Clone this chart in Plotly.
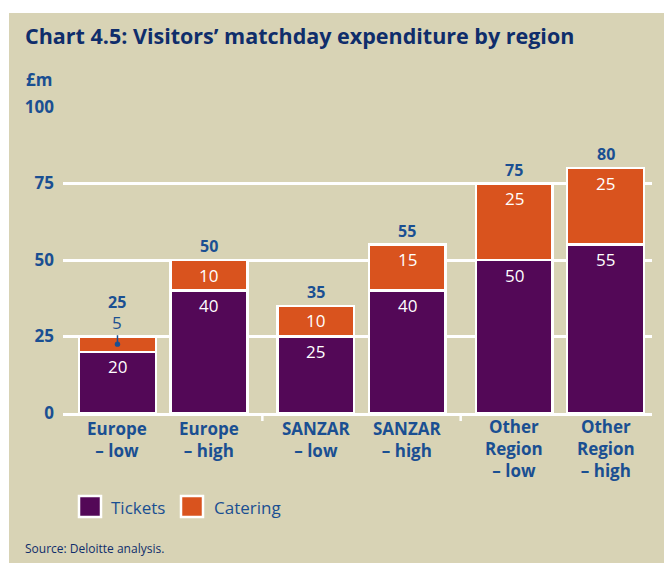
import plotly.graph_objects as go

# ---- data ----
categories = ["Europe<br>– low", "Europe<br>– high", "SANZAR<br>– low", "SANZAR<br>– high",
              "Other<br>Region<br>– low", "Other<br>Region<br>– high"]
groups = [0, 0, 1, 1, 2, 2]
tickets = [20, 40, 25, 40, 50, 55]
catering = [5, 10, 10, 15, 25, 25]
totals = [25, 50, 35, 55, 75, 80]
y_ticks = [0, 25, 50, 75, 100]

# ---- style ----
BG = "#D8D3B5"
PURPLE = "#530857"
ORANGE = "#D9531E"
BLUE = "#1A4F92"
NAVY = "#0F2D6B"
FONT = "Open Sans"

W, H = 664, 563
L, R, T, B = 63, 12, 107, 150
PW, PH = W - L - R, H - T - B

def px2x(px):
    return (px - L) / PW

def py2y(py):
    return (H - B - py) / PH

GAP = 0.17
xpos = [i + g * GAP for i, g in enumerate(groups)]

fig = go.Figure()
fig.add_trace(go.Bar(x=xpos, y=tickets, name="Tickets", width=0.84,
                     marker=dict(color=PURPLE, line=dict(color="white", width=2.5))))
fig.add_trace(go.Bar(x=xpos, y=catering, name="Catering", width=0.84,
                     marker=dict(color=ORANGE, line=dict(color="white", width=2.5))))

anns = []
for i, (x, t) in enumerate(zip(xpos, totals)):
    small = catering[i] < 8
    # inside labels (white), just below each segment's top
    anns.append(dict(x=x, y=tickets[i], xref="x", yref="y", text=str(tickets[i]),
                     showarrow=False, yanchor="middle", yshift=-15,
                     font=dict(color="white", size=17, family=FONT)))
    if not small:
        anns.append(dict(x=x, y=tickets[i] + catering[i], xref="x", yref="y",
                         text=str(catering[i]), showarrow=False, yanchor="middle", yshift=-15,
                         font=dict(color="white", size=17, family=FONT)))
    else:
        anns.append(dict(x=x, y=tickets[i] + catering[i] / 2, xref="x", yref="y",
                         text=str(catering[i]), showarrow=True, arrowhead=6, arrowsize=0.9,
                         arrowwidth=1.5, arrowcolor=BLUE, ax=0, ay=-22,
                         font=dict(color=BLUE, size=17, family=FONT)))
    anns.append(dict(x=x, y=t, xref="x", yref="y", text=f"<b>{t}</b>", showarrow=False,
                     yanchor="bottom", yshift=22 if small else 1,
                     font=dict(color=BLUE, size=16, family=FONT)))

# category labels under the axis
for x, c in zip(xpos, categories):
    n = len(c.split("<br>"))
    anns.append(dict(x=x, y=py2y(430 + 18.5 * (n - 1) / 2), xref="x", yref="paper",
                     text=f"<b>{c}</b>", showarrow=False, yanchor="middle",
                     font=dict(color=BLUE, size=17, family=FONT)))

# title, unit, source
anns.append(dict(x=px2x(23), y=py2y(36), xref="paper", yref="paper", xanchor="left",
                 yanchor="middle", showarrow=False,
                 text="<b>Chart 4.5: Visitors’ matchday expenditure by region</b>",
                 font=dict(color=NAVY, size=21.5, family=FONT)))
anns.append(dict(x=px2x(24), y=py2y(79), xref="paper", yref="paper", xanchor="left",
                 yanchor="middle", showarrow=False, text="<b>£m</b>",
                 font=dict(color=BLUE, size=17, family=FONT)))
anns.append(dict(x=px2x(23), y=py2y(548), xref="paper", yref="paper", xanchor="left",
                 yanchor="middle", showarrow=False, text="Source: Deloitte analysis.",
                 font=dict(color=NAVY, size=12, family=FONT)))

shapes = [
    # white page strips (top and left)
    dict(type="rect", xref="paper", yref="paper", x0=px2x(-5), x1=px2x(W + 5),
         y0=py2y(13), y1=py2y(-5), fillcolor="white", line=dict(width=0), layer="below"),
    dict(type="rect", xref="paper", yref="paper", x0=px2x(-5), x1=px2x(9),
         y0=py2y(H + 5), y1=py2y(-5), fillcolor="white", line=dict(width=0), layer="below"),
]
# group separator ticks
for a, b in [(1, 2), (3, 4)]:
    xm = (xpos[a] + xpos[b]) / 2
    shapes.append(dict(type="line", xref="x", yref="paper", x0=xm, x1=xm,
                       y0=0, y1=py2y(H - B + 8), line=dict(color="white", width=2.5)))

# custom legend
for (name, col, sx, tx) in [("Tickets", PURPLE, 78, 109), ("Catering", ORANGE, 180, 212)]:
    shapes.append(dict(type="rect", xref="paper", yref="paper",
                       x0=px2x(sx + 1), x1=px2x(sx + 23), y0=py2y(517), y1=py2y(496),
                       fillcolor=col, line=dict(color="white", width=2.5)))
    anns.append(dict(x=px2x(tx), y=py2y(507), xref="paper", yref="paper", xanchor="left",
                     yanchor="middle", showarrow=False, text=name,
                     font=dict(color=BLUE, size=17, family=FONT)))

fig.update_layout(
    barmode="stack", width=W, height=H, showlegend=False,
    margin=dict(l=L, r=R, t=T, b=B, pad=0),
    paper_bgcolor=BG, plot_bgcolor=BG,
    annotations=anns, shapes=shapes,
    font=dict(family=FONT, color=BLUE),
)
fig.update_xaxes(range=[-0.596, 5.848], tickvals=xpos, showticklabels=False, showgrid=False,
                 showline=True, linecolor="white", linewidth=3, ticks="", zeroline=False,
                 fixedrange=True)
fig.update_yaxes(range=[0, 100], tickvals=y_ticks, ticktext=[f"<b>{v}</b>" for v in y_ticks],
                 tickfont=dict(size=17, color=BLUE, family=FONT), showgrid=True,
                 gridcolor="white", gridwidth=3, zeroline=False, showline=False, ticks="",
                 ticklabelstandoff=8, fixedrange=True)

fig.write_html("out.html", config={"displayModeBar": False},
               post_script="document.body.style.margin='0px';")
